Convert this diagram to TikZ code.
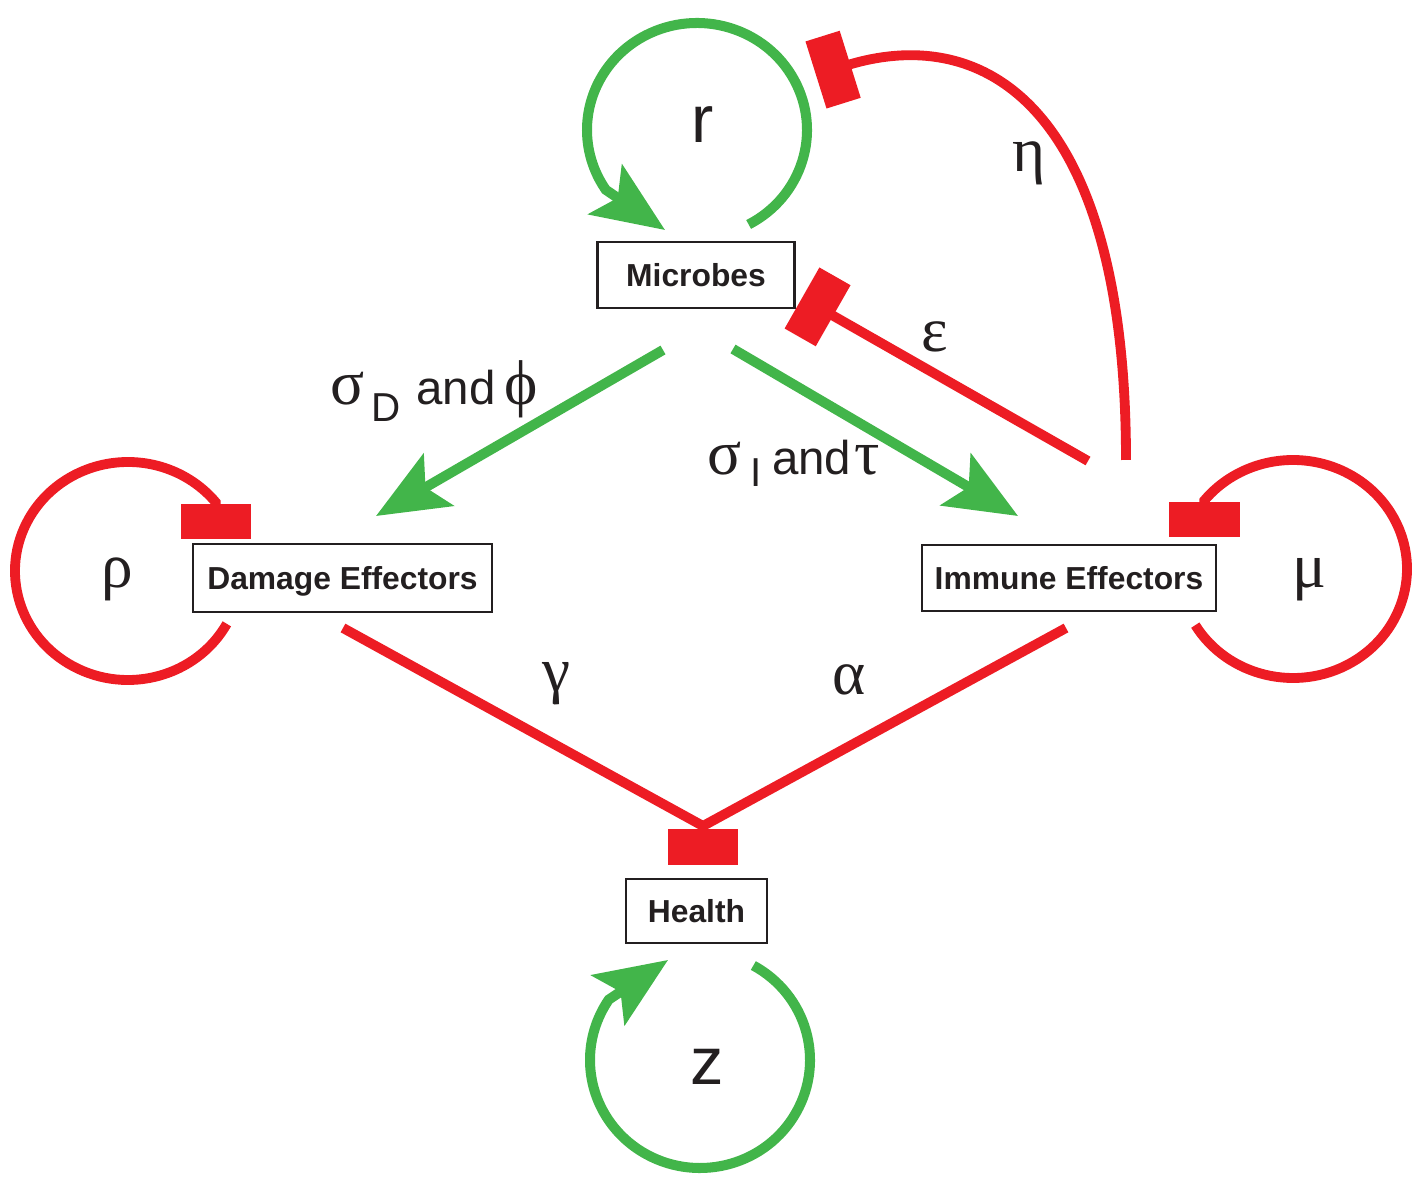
\documentclass[tikz,border=0pt]{standalone}
\usepackage{fontspec}
\setmainfont{Liberation Sans}
\newfontfamily\grk{Liberation Serif}
\usetikzlibrary{arrows.meta}
\definecolor{ink}{HTML}{231F20}
\definecolor{actgreen}{HTML}{42B54A}
\definecolor{inhred}{HTML}{ED1C24}
\newcommand{\gk}[1]{{\grk\fontsize{36}{40}\selectfont #1}}
\newcommand{\lowsub}[2]{\raisebox{-#1}{\fontsize{23}{26}\selectfont #2}}
\begin{document}
\begin{tikzpicture}[x=0.02cm, y=0.02cm,
  box/.style={draw=ink,line width=1.3pt,text=ink,inner sep=0pt,text height=13pt,text depth=0pt,font=\fontsize{18.1}{20}\selectfont\bfseries},
  act/.style={actgreen,line width=5.7pt,-{Stealth[length=41pt,width=34pt,inset=8.5pt]}},
  inh/.style={inhred,line width=5.6pt,-{Rectangle[length=20.4pt,width=40pt]}},
  rate/.style={text=ink,anchor=base,font=\grk\fontsize{36}{40}\selectfont},
  vname/.style={text=ink,anchor=base,font=\fontsize{38}{40}\selectfont},
  mix/.style={text=ink,anchor=base west,inner sep=0pt,font=\fontsize{27}{30}\selectfont}]
\useasboundingbox (0,0) rectangle (1417,1177);
\node[box,minimum width=3.94cm,minimum height=1.32cm] (mic) at (696,902) {Microbes};
\node[box,minimum width=5.98cm,minimum height=1.36cm] (dmg) at (342.5,599) {Damage Effectors};
\node[box,minimum width=5.88cm,minimum height=1.32cm] (imm) at (1069,599) {Immune Effectors};
\node[box,minimum width=2.82cm,minimum height=1.28cm] (hlth) at (696.5,266) {Health};
\coordinate (rc) at (697,1047);
\coordinate (zc) at (700,117);
\coordinate (rhoc) at (128,606);
\coordinate (muc) at (1293,608);
\coordinate (rtip) at (665,947);
\coordinate (ztip) at (668,217);
\coordinate (m2d) at (663,827);
\coordinate (d2m) at (376,661);
\coordinate (m2i) at (733,828);
\coordinate (i2m) at (1018,661);
\coordinate (epsS) at (1088,716);
\coordinate (epsT) at (802,879);
\coordinate (etaS) at (1126,717);
\coordinate (etaT) at (816,1102);
\coordinate (dmgS) at (343,549);
\coordinate (immS) at (1066,549);
\coordinate (hjoin) at (703,351);
\coordinate (hbar) at (703,312);
\draw[act] ([shift={(-62:110 and 107)}]rc) arc[start angle=-62,end angle=214,x radius=110,y radius=107] -- (rtip);
\draw[act] ([shift={(61:110 and 108)}]zc) arc[start angle=61,end angle=-214,x radius=110,y radius=108] -- (ztip);
\draw[inh] ([shift={(-29:113 and 109)}]rhoc) arc[start angle=-29,end angle=-321,x radius=113,y radius=109] -- ++(0,-37);
\draw[inh] ([shift={(211:114 and 109)}]muc) arc[start angle=211,end angle=501,x radius=114,y radius=109] -- ++(0,-37);
\draw[act] (m2d) -- (d2m);
\draw[act] (m2i) -- (i2m);
\draw[inh] (epsS) -- (epsT);
\draw[inh] (etaS) .. controls (1126,1070) and (985,1155) .. (etaT);
\draw[inhred,line width=5.6pt,line join=miter] (dmgS) -- (hjoin) -- (immS);
\draw[inh] (hjoin) -- (hbar);
\node[vname] (rlbl) at (703,1034) {r};
\node[vname] (zlbl) at (707,92) {z};
\node[rate] (rho) at (117,589) {ρ};
\node[rate] (mu) at (1309,589) {μ};
\node[rate] (eta) at (1029,1005) {η};
\node[rate] (eps) at (935,825) {ε};
\node[rate] (gam) at (556,485) {γ};
\node[rate] (alp) at (849,482) {α};
\node[mix] (sdphi) at (330,772) {\gk{σ}\hspace{4pt}\lowsub{9.6pt}{D}\hspace{9pt}and\hspace{5pt}\gk{ϕ}};
\node[mix] (situ) at (707,702) {\gk{σ}\hspace{5pt}\lowsub{6.8pt}{I}\hspace{6pt}and\hspace{2pt}\gk{τ}};
\end{tikzpicture}
\end{document}
